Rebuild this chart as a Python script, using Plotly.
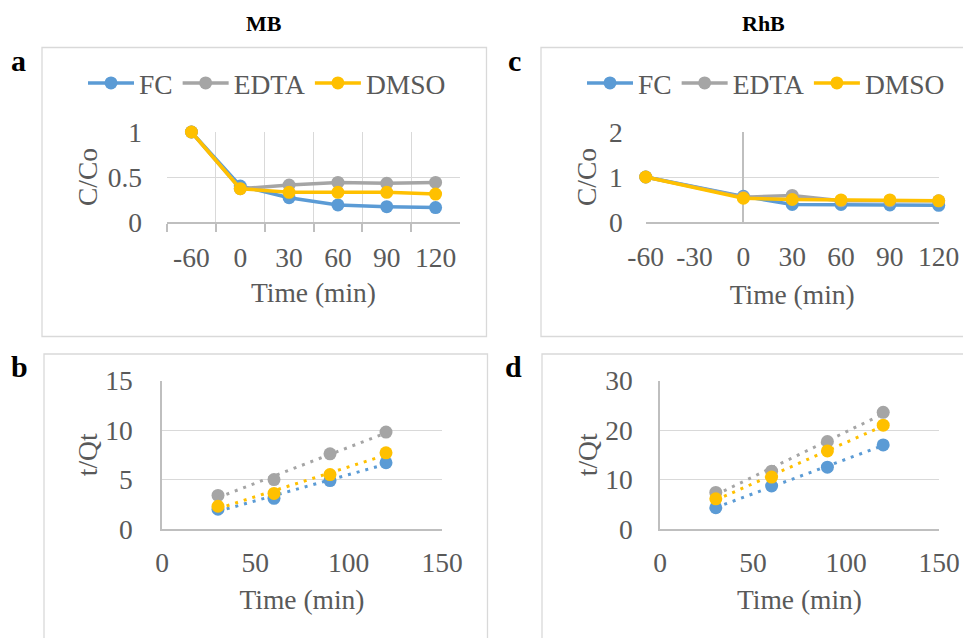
import numpy as np
import plotly.graph_objects as go

# page body has an 8px margin: figure is laid out in screen pixels minus that offset
OFF = 8
W, H = 971 - OFF, 638 - OFF

# ---------------- data ----------------
# Panel a (MB): C/Co vs time (category axis)
time_cats = ["-60", "0", "30", "60", "90", "120"]
mb_fc = [1.0, 0.40, 0.27, 0.19, 0.17, 0.16]
mb_edta = [1.0, 0.37, 0.41, 0.44, 0.43, 0.44]
mb_dmso = [1.0, 0.37, 0.33, 0.33, 0.33, 0.31]

# Panel c (RhB): C/Co vs time (value axis)
rhb_time = [-60, 0, 30, 60, 90, 120]
rhb_fc = [1.0, 0.57, 0.39, 0.39, 0.38, 0.37]
rhb_edta = [1.0, 0.55, 0.59, 0.47, 0.47, 0.47]
rhb_dmso = [1.0, 0.53, 0.50, 0.49, 0.49, 0.47]
rhb_tickvals = [-60, -30, 0, 30, 60, 90, 120]
rhb_ticktext = ["-60", "-30", "0", "30", "60", "90", "120"]

# Panels b, d: t/Qt vs time
kin_time = [30, 60, 90, 120]
mb_kin_fc = [2.0, 3.1, 4.9, 6.7]
mb_kin_edta = [3.4, 5.0, 7.6, 9.8]
mb_kin_dmso = [2.3, 3.6, 5.5, 7.7]
rhb_kin_fc = [4.3, 8.7, 12.5, 17.0]
rhb_kin_edta = [7.4, 11.7, 17.7, 23.6]
rhb_kin_dmso = [6.1, 10.5, 15.8, 21.0]

series_names = ["FC", "EDTA", "DMSO"]
colors = ["#5B9BD5", "#A5A5A5", "#FFC000"]

# ---------------- styles ----------------
FONT = "Liberation Serif, Times New Roman, serif"
TXT = "#595959"
GRID = "#D9D9D9"
AXL = "#BFBFBF"
FS = 27.5


def px(x):
    return (x - OFF) / W


def py(y):
    return 1 - (y - OFF) / H


def dom_x(x0, x1):
    return [px(x0), px(x1)]


def dom_y(top, bottom):
    return [py(bottom), py(top)]


fig = go.Figure()

# Panel a
for name, vals, c in zip(series_names, [mb_fc, mb_edta, mb_dmso], colors):
    fig.add_trace(go.Scatter(
        x=time_cats, y=vals, name=name, mode="lines+markers",
        line=dict(color=c, width=3.5), marker=dict(color=c, size=13),
        xaxis="x", yaxis="y", legend="legend", cliponaxis=False))

# Panel c
for name, vals, c in zip(series_names, [rhb_fc, rhb_edta, rhb_dmso], colors):
    fig.add_trace(go.Scatter(
        x=rhb_time, y=vals, name=name, mode="lines+markers",
        line=dict(color=c, width=3.5), marker=dict(color=c, size=13),
        xaxis="x3", yaxis="y3", legend="legend2", cliponaxis=False))

# Panels b and d: markers + linear trendlines
for xa, ya, sets in [("x2", "y2", [mb_kin_fc, mb_kin_edta, mb_kin_dmso]),
                     ("x4", "y4", [rhb_kin_fc, rhb_kin_edta, rhb_kin_dmso])]:
    for name, vals, c in zip(series_names, sets, colors):
        fig.add_trace(go.Scatter(
            x=kin_time, y=vals, name=name, mode="markers",
            marker=dict(color=c, size=13), showlegend=False,
            xaxis=xa, yaxis=ya, cliponaxis=False))
        k, b = np.polyfit(kin_time, vals, 1)
        xs = np.array([kin_time[0], kin_time[-1]], dtype=float)
        fig.add_trace(go.Scatter(
            x=xs, y=k * xs + b, mode="lines", showlegend=False,
            line=dict(color=c, width=3, dash="3px,6px"),
            hoverinfo="skip", xaxis=xa, yaxis=ya))

tickfont = dict(family=FONT, size=FS, color=TXT)
titlefont = dict(family=FONT, size=FS, color=TXT)

layout = dict(
    width=W, height=H,
    margin=dict(l=0, r=0, t=0, b=0, pad=0, autoexpand=False),
    paper_bgcolor="white", plot_bgcolor="white",
    font=dict(family=FONT, size=FS, color=TXT),
    # panel a
    xaxis=dict(domain=dom_x(167, 460), anchor="y", type="category",
               range=[-0.5, 5.5], tickson="boundaries", ticks="outside",
               ticklen=8, tickcolor=AXL, tickwidth=1.5, tickangle=0,
               showgrid=True, gridcolor=GRID, gridwidth=1.3,
               showline=True, linecolor=AXL, linewidth=1.5,
               tickfont=tickfont, ticklabelstandoff=10, automargin=False,
               title=dict(text="Time (min)", font=titlefont, standoff=11)),
    yaxis=dict(domain=dom_y(132, 222), anchor="x", range=[0, 1], dtick=0.5,
               showgrid=True, gridcolor=GRID, gridwidth=1.3, zeroline=False,
               showline=False, ticks="", tickfont=tickfont,
               ticklabelstandoff=24, automargin=False,
               title=dict(text="C/Co", font=titlefont, standoff=2)),
    # panel b
    xaxis2=dict(domain=dom_x(162, 442), anchor="y2", range=[0, 150], dtick=50,
                showgrid=False, zeroline=False, showline=True, linecolor=AXL,
                linewidth=1.5, ticks="", tickfont=tickfont,
                ticklabelstandoff=8, automargin=False,
                title=dict(text="Time (min)", font=titlefont, standoff=13)),
    yaxis2=dict(domain=dom_y(380.7, 529), anchor="x2", range=[0, 15], dtick=5,
                showgrid=True, gridcolor=GRID, gridwidth=1.3, zeroline=False,
                showline=True, linecolor=AXL, linewidth=1.5, ticks="",
                tickfont=tickfont, ticklabelstandoff=22, automargin=False,
                title=dict(text="t/Qt", font=titlefont, standoff=0)),
    # panel c
    xaxis3=dict(domain=dom_x(645.7, 938.7), anchor="y3", range=[-60, 120],
                tickmode="array", tickvals=rhb_tickvals, ticktext=rhb_ticktext,
                showgrid=False, zeroline=True, zerolinecolor=AXL,
                zerolinewidth=1.5, showline=True, linecolor=AXL, linewidth=1.5,
                ticks="", tickfont=tickfont, ticklabelstandoff=9,
                automargin=False,
                title=dict(text="Time (min)", font=titlefont, standoff=14)),
    yaxis3=dict(domain=dom_y(132, 222), anchor="x3", range=[0, 2], dtick=1,
                showgrid=True, gridcolor=GRID, gridwidth=1.3, zeroline=False,
                showline=False, ticks="", tickfont=tickfont,
                ticklabelstandoff=22, automargin=False,
                title=dict(text="C/Co", font=titlefont, standoff=4)),
    # panel d
    xaxis4=dict(domain=dom_x(660, 939), anchor="y4", range=[0, 150], dtick=50,
                showgrid=False, zeroline=False, showline=True, linecolor=AXL,
                linewidth=1.5, ticks="", tickfont=tickfont,
                ticklabelstandoff=8, automargin=False,
                title=dict(text="Time (min)", font=titlefont, standoff=13)),
    yaxis4=dict(domain=dom_y(380.7, 529), anchor="x4", range=[0, 30], dtick=10,
                showgrid=True, gridcolor=GRID, gridwidth=1.3, zeroline=False,
                showline=True, linecolor=AXL, linewidth=1.5, ticks="",
                tickfont=tickfont, ticklabelstandoff=20, automargin=False,
                title=dict(text="t/Qt", font=titlefont, standoff=0)),
    legend=dict(orientation="h", x=px(267), xanchor="center",
                y=py(83), yanchor="middle", bgcolor="rgba(0,0,0,0)",
                font=dict(family=FONT, size=FS, color=TXT), itemwidth=46),
    legend2=dict(orientation="h", x=px(766), xanchor="center",
                 y=py(83), yanchor="middle", bgcolor="rgba(0,0,0,0)",
                 font=dict(family=FONT, size=FS, color=TXT), itemwidth=46),
    showlegend=True,
)
fig.update_layout(**layout)

# panel frames
for x0, y0, x1, y1 in [(42, 47.5, 486.5, 336.5), (541, 47.5, 990, 336.5),
                       (44, 354, 487.5, 660), (542, 354, 990, 660)]:
    fig.add_shape(type="rect", xref="paper", yref="paper",
                  x0=px(x0), x1=px(x1), y0=py(y1), y1=py(y0),
                  line=dict(color=GRID, width=1.3), layer="below")

# titles and panel letters
for txt, x, y, size in [("MB", 264, 23, 22), ("RhB", 763, 23, 22),
                        ("a", 18, 60, 30), ("b", 19.5, 366, 30),
                        ("c", 515, 60, 30), ("d", 513, 366, 30)]:
    fig.add_annotation(text="<b>%s</b>" % txt, x=px(x), y=py(y),
                       xref="paper", yref="paper", showarrow=False,
                       xanchor="center", yanchor="middle",
                       font=dict(family=FONT, size=size, color="black"))

fig.write_html("out.html")
